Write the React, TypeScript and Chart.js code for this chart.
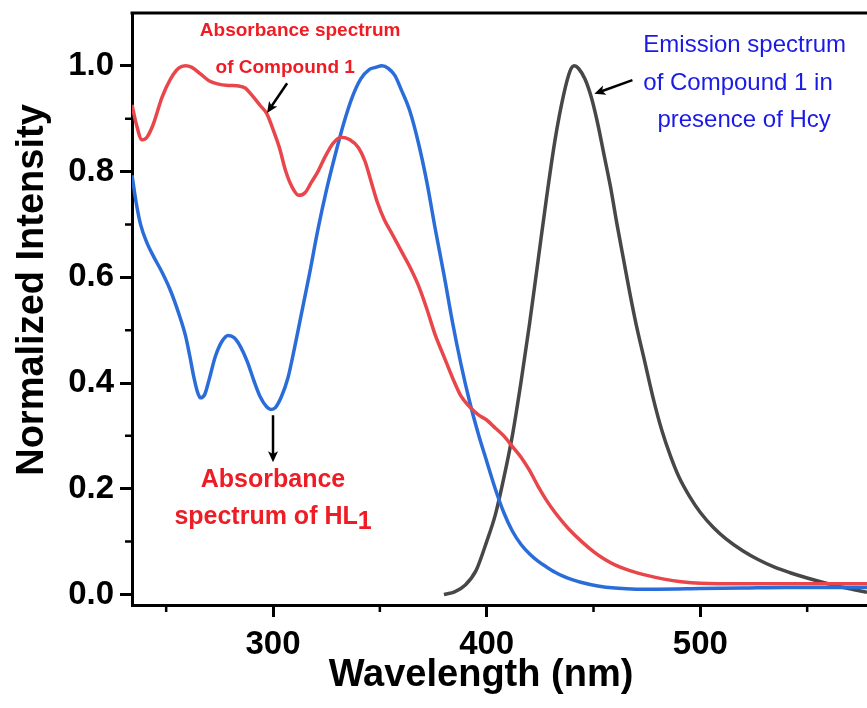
import React, { useEffect, useRef } from 'react';
import { Chart, registerables } from 'chart.js';

Chart.register(...registerables);

// Absorbance spectrum of Compound 1 (red)
const redNm = [234, 236, 238.7, 241, 244, 248, 252, 256, 259, 262, 266, 270, 274, 279, 284, 287, 290, 294, 297, 300, 303, 306, 309, 312, 315, 318, 321, 324, 328, 332, 336, 340, 343, 346, 349, 352, 356, 360, 364, 368, 372, 376, 380, 384, 388, 392, 396, 400, 404, 408, 412, 416, 420, 424, 428, 432, 436, 440, 445, 450, 455, 460, 467, 475, 483, 491, 500, 520, 540, 560, 578];
const redVal = [0.926, 0.89, 0.86, 0.865, 0.89, 0.94, 0.975, 0.996, 1.0, 0.997, 0.985, 0.972, 0.966, 0.963, 0.962, 0.958, 0.945, 0.925, 0.91, 0.88, 0.845, 0.8, 0.77, 0.755, 0.76, 0.78, 0.8, 0.825, 0.853, 0.865, 0.86, 0.845, 0.82, 0.78, 0.74, 0.71, 0.68, 0.65, 0.62, 0.585, 0.54, 0.49, 0.45, 0.41, 0.375, 0.355, 0.34, 0.33, 0.315, 0.3, 0.28, 0.26, 0.235, 0.205, 0.178, 0.155, 0.135, 0.117, 0.098, 0.081, 0.067, 0.056, 0.045, 0.036, 0.029, 0.024, 0.021, 0.02, 0.02, 0.02, 0.02];

// Absorbance spectrum of HL1 (blue)
const blueNm = [234, 236, 238, 241, 244, 248, 252, 256, 259, 261, 263, 264.5, 266, 268, 270, 273, 276, 279, 282, 285, 288, 291, 294, 297, 299, 301, 304, 307, 310, 313, 317, 321, 325, 329, 333, 337, 341, 345, 348, 351, 354, 357, 360, 364, 368, 372, 376, 380, 384, 388, 392, 396, 400, 404, 408, 412, 416, 420, 424, 428, 432, 436, 440, 444, 452, 460, 470, 480, 500, 520, 540, 560, 578];
const blueVal = [0.793, 0.74, 0.7, 0.665, 0.64, 0.61, 0.575, 0.53, 0.49, 0.452, 0.41, 0.385, 0.372, 0.378, 0.405, 0.45, 0.478, 0.49, 0.485, 0.467, 0.44, 0.405, 0.374, 0.355, 0.35, 0.353, 0.375, 0.41, 0.465, 0.525, 0.605, 0.69, 0.765, 0.83, 0.89, 0.94, 0.975, 0.993, 0.997, 1.0, 0.995, 0.982, 0.955, 0.915, 0.855, 0.78, 0.69, 0.605, 0.515, 0.435, 0.365, 0.305, 0.252, 0.2, 0.155, 0.12, 0.095, 0.077, 0.063, 0.052, 0.042, 0.034, 0.028, 0.023, 0.016, 0.012, 0.01, 0.01, 0.011, 0.012, 0.013, 0.013, 0.013];

// Emission spectrum of Compound 1 with Hcy (dark grey)
const greyNm = [380, 385, 390, 395, 400, 404, 408, 412, 416, 420, 424, 428, 432, 436, 439, 441, 443, 446, 449, 452, 455, 458, 461, 464, 467, 470, 474, 478, 482, 486, 490, 495, 500, 506, 512, 520, 527, 535, 542, 550, 558, 566, 572, 578];
const greyVal = [0.0, 0.005, 0.018, 0.045, 0.1, 0.15, 0.22, 0.3, 0.4, 0.51, 0.63, 0.75, 0.86, 0.945, 0.99, 1.0, 0.995, 0.975, 0.94, 0.89, 0.83, 0.77, 0.7, 0.635, 0.57, 0.51, 0.44, 0.37, 0.31, 0.262, 0.222, 0.185, 0.155, 0.127, 0.105, 0.082, 0.066, 0.051, 0.041, 0.031, 0.022, 0.014, 0.009, 0.004];

const xTickValues = [300, 400, 500];
const xMinorTicks = [250, 350, 450, 550];
const yTickValues = [0, 0.2, 0.4, 0.6, 0.8, 1.0];
const yMinorTicks = [0.1, 0.3, 0.5, 0.7, 0.9];

const FONT = '"Liberation Sans", Arial, sans-serif';

function pts(xs: number[], ys: number[]) {
  return xs.map((x, i) => ({ x, y: ys[i] }));
}

function arrow(ctx: CanvasRenderingContext2D, x1: number, y1: number, x2: number, y2: number) {
  ctx.save();
  const ang = Math.atan2(y2 - y1, x2 - x1);
  const hl = 11, hw = 5;
  ctx.strokeStyle = '#000';
  ctx.fillStyle = '#000';
  ctx.lineWidth = 2.5;
  ctx.beginPath();
  ctx.moveTo(x1, y1);
  ctx.lineTo(x2 - Math.cos(ang) * hl * 0.7, y2 - Math.sin(ang) * hl * 0.7);
  ctx.stroke();
  ctx.beginPath();
  ctx.moveTo(x2, y2);
  ctx.lineTo(x2 - Math.cos(ang) * hl + Math.sin(ang) * hw, y2 - Math.sin(ang) * hl - Math.cos(ang) * hw);
  ctx.lineTo(x2 - Math.cos(ang) * hl * 0.75, y2 - Math.sin(ang) * hl * 0.75);
  ctx.lineTo(x2 - Math.cos(ang) * hl - Math.sin(ang) * hw, y2 - Math.sin(ang) * hl + Math.cos(ang) * hw);
  ctx.closePath();
  ctx.fill();
  ctx.restore();
}

const decorPlugin = {
  id: 'decor',
  afterDraw(chart: any) {
    const { ctx, chartArea, scales } = chart;
    const xs = scales.x;
    const ys = scales.y;
    const X = (v: number) => xs.getPixelForValue(v);
    const Y = (v: number) => ys.getPixelForValue(v);
    ctx.save();
    // top frame line
    ctx.strokeStyle = '#000';
    ctx.lineWidth = 3;
    ctx.beginPath();
    ctx.moveTo(chartArea.left - 1.5, chartArea.top);
    ctx.lineTo(chartArea.right, chartArea.top);
    ctx.stroke();
    // minor ticks
    ctx.lineWidth = 2.5;
    ctx.beginPath();
    for (const v of xMinorTicks) {
      const px = X(v);
      ctx.moveTo(px, chartArea.bottom);
      ctx.lineTo(px, chartArea.bottom + 7);
    }
    for (const v of yMinorTicks) {
      const py = Y(v);
      ctx.moveTo(chartArea.left, py);
      ctx.lineTo(chartArea.left - 7, py);
    }
    ctx.stroke();

    // axis titles
    ctx.fillStyle = '#000';
    ctx.font = `bold 38px ${FONT}`;
    ctx.textAlign = 'center';
    ctx.textBaseline = 'alphabetic';
    ctx.fillText('Wavelength (nm)', 481, 686);
    ctx.save();
    ctx.translate(43, 290);
    ctx.rotate(-Math.PI / 2);
    ctx.fillText('Normalized Intensity', 0, 0);
    ctx.restore();

    // annotations
    ctx.textBaseline = 'middle';
    ctx.fillStyle = '#ee1c24';
    ctx.font = `bold 19px ${FONT}`;
    ctx.textAlign = 'center';
    ctx.fillText('Absorbance spectrum', X(312.7), Y(1.067));
    ctx.fillText('of Compound 1', X(305.7), Y(0.997));
    arrow(ctx, X(306.6), Y(0.967), X(297.2), Y(0.911));

    ctx.fillStyle = '#ee1c24';
    ctx.font = `bold 25px ${FONT}`;
    ctx.textAlign = 'center';
    ctx.fillText('Absorbance', X(300), Y(0.216));
    const main = 'spectrum of HL';
    const wMain = ctx.measureText(main).width;
    const wSub = ctx.measureText('1').width;
    const startX = X(300) - (wMain + wSub) / 2;
    ctx.textAlign = 'left';
    ctx.fillText(main, startX, Y(0.146));
    ctx.fillText('1', startX + wMain, Y(0.146) + 5);
    arrow(ctx, X(300), Y(0.339), X(300), Y(0.25));

    ctx.fillStyle = '#1a1ae6';
    ctx.font = `24px ${FONT}`;
    ctx.textAlign = 'left';
    ctx.fillText('Emission spectrum', X(473.3), Y(1.039));
    ctx.fillText('of Compound 1 in', X(473.3), Y(0.967));
    ctx.fillText('presence of Hcy', X(479.9), Y(0.8975));
    arrow(ctx, X(468.2), Y(0.973), X(450.4), Y(0.947));
    ctx.restore();
  },
};

export default function App() {
  const ref = useRef<HTMLCanvasElement>(null);
  useEffect(() => {
    const canvas = ref.current;
    if (!canvas) return;
    const tickFont = { family: FONT, size: 33, weight: 'bold' as const };
    const chart = new Chart(canvas, {
      type: 'line',
      data: {
        datasets: [
          {
            label: 'Absorbance spectrum of Compound 1',
            data: pts(redNm, redVal),
            borderColor: '#e8464a',
            borderWidth: 3.5,
            pointRadius: 0,
            cubicInterpolationMode: 'monotone',
          },
          {
            label: 'Absorbance spectrum of HL1',
            data: pts(blueNm, blueVal),
            borderColor: '#2a6dd9',
            borderWidth: 3.5,
            pointRadius: 0,
            cubicInterpolationMode: 'monotone',
          },
          {
            label: 'Emission spectrum of Compound 1 in presence of Hcy',
            data: pts(greyNm, greyVal),
            borderColor: '#474747',
            borderWidth: 3.5,
            pointRadius: 0,
            cubicInterpolationMode: 'monotone',
          },
        ],
      },
      options: {
        responsive: false,
        animation: false,
        devicePixelRatio: 1,
        layout: { padding: { top: 13, right: 0, left: 0, bottom: 0 } },
        plugins: { legend: { display: false }, tooltip: { enabled: false } },
        scales: {
          x: {
            type: 'linear',
            min: 234,
            max: 578,
            afterBuildTicks: (s: any) => {
              s.ticks = xTickValues.map((v) => ({ value: v }));
            },
            afterFit: (s: any) => {
              s.height = 103;
              s.paddingLeft = 0;
              s.paddingRight = 0;
            },
            ticks: {
              font: tickFont,
              color: '#000',
              padding: 8,
              maxRotation: 0,
              autoSkip: false,
              callback: (v: any) => String(v),
            },
            grid: {
              drawOnChartArea: false,
              drawTicks: true,
              tickLength: 12,
              tickWidth: 3,
              tickColor: '#000',
            },
            border: { display: true, color: '#000', width: 3 },
          },
          y: {
            type: 'linear',
            min: -0.02,
            max: 1.1,
            afterBuildTicks: (s: any) => {
              s.ticks = yTickValues.map((v) => ({ value: v }));
            },
            afterFit: (s: any) => {
              s.width = 132;
              s.paddingTop = 0;
              s.paddingBottom = 0;
            },
            ticks: {
              font: tickFont,
              color: '#000',
              padding: 6,
              autoSkip: false,
              callback: (v: any) => Number(v).toFixed(1),
            },
            grid: {
              drawOnChartArea: false,
              drawTicks: true,
              tickLength: 12,
              tickWidth: 3,
              tickColor: '#000',
            },
            border: { display: true, color: '#000', width: 3 },
          },
        },
      },
      plugins: [decorPlugin],
    });
    return () => chart.destroy();
  }, []);
  return (
    <div style={{ position: 'absolute', left: 0, top: 0, width: 867, height: 708, background: '#fff' }}>
      <canvas ref={ref} width={867} height={708} />
    </div>
  );
}
